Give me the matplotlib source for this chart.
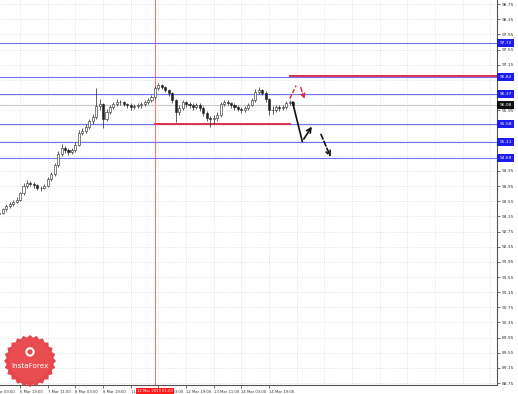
import matplotlib
matplotlib.use("Agg")
import matplotlib.pyplot as plt
import numpy as np

# 2-hour candles, index 0 = 6 Mar 03:00
bar_idx = list(range(2, 88))
first_open = 93.20
closes = [93.24, 93.34, 93.42, 93.47, 93.53, 93.58, 93.76, 93.95, 94.03, 94.00,
          93.97, 93.90, 93.90, 93.95, 94.13, 94.26, 94.50, 94.79, 94.95, 94.90,
          94.85, 94.90, 95.03, 95.35, 95.40, 95.50, 95.66, 95.77, 96.06, 96.11,
          95.72, 95.90, 96.03, 96.11, 96.16, 96.16, 96.11, 96.09, 96.03, 96.06,
          96.09, 96.11, 96.16, 96.22, 96.30, 96.53, 96.61, 96.56, 96.48, 96.40,
          96.22, 95.90, 96.01, 96.16, 96.11, 96.09, 96.03, 96.09, 96.01, 95.87,
          95.74, 95.72, 95.74, 95.82, 96.11, 96.16, 96.14, 96.09, 96.03, 95.98,
          95.95, 96.01, 96.09, 96.22, 96.43, 96.48, 96.40, 96.24, 95.95, 95.95,
          96.03, 96.01, 96.03, 96.14, 96.16, 96.08]
highs = [93.30, 93.38, 93.47, 93.52, 93.58, 93.66, 93.80, 94.02, 94.10, 94.08,
         94.05, 94.01, 93.96, 94.00, 94.18, 94.32, 94.56, 94.88, 95.05, 95.00,
         94.95, 94.96, 95.10, 95.42, 95.48, 95.58, 95.72, 95.85, 96.53, 96.25,
         96.15, 95.98, 96.10, 96.18, 96.24, 96.22, 96.20, 96.15, 96.13, 96.11,
         96.14, 96.16, 96.21, 96.27, 96.36, 96.60, 96.66, 96.64, 96.60, 96.52,
         96.44, 96.26, 96.08, 96.22, 96.20, 96.16, 96.13, 96.15, 96.13, 96.05,
         95.92, 95.80, 95.82, 95.90, 96.18, 96.22, 96.21, 96.18, 96.13, 96.08,
         96.03, 96.06, 96.14, 96.28, 96.50, 96.56, 96.52, 96.45, 96.28, 96.05,
         96.10, 96.08, 96.09, 96.19, 96.22, 96.20]
lows = [93.14, 93.20, 93.30, 93.38, 93.42, 93.49, 93.55, 93.72, 93.90, 93.94,
        93.90, 93.84, 93.83, 93.86, 93.92, 94.08, 94.22, 94.45, 94.74, 94.83,
        94.78, 94.80, 94.86, 95.00, 95.30, 95.35, 95.46, 95.60, 95.72, 95.95,
        95.48, 95.66, 95.85, 95.98, 96.06, 96.08, 96.05, 96.02, 95.97, 95.98,
        96.01, 96.00, 96.07, 96.12, 96.18, 96.26, 96.48, 96.50, 96.42, 96.33,
        96.15, 95.64, 95.82, 95.96, 96.04, 96.00, 95.95, 95.98, 95.93, 95.80,
        95.66, 95.50, 95.60, 95.68, 95.78, 96.05, 96.08, 96.02, 95.96, 95.92,
        95.88, 95.90, 95.96, 96.05, 96.18, 96.38, 96.34, 96.18, 95.82, 95.86,
        95.90, 95.93, 95.95, 95.98, 96.08, 96.02]
opens = [first_open] + closes[:-1]

blue_levels = [97.72, 96.82, 96.37, 95.58, 95.11, 94.69]
current_price = 96.08
resist_level = 96.85
resist_from = 86
support_level = 95.60
support_from, support_to = 47, 86
marker_bar = 47
marker_label = "12 Mar 2019 01:00"

tick_bars = [8, 16, 24, 32, 40, 48, 56, 64, 72, 80]
tick_labels = ["6 Mar 19:00", "7 Mar 11:00", "8 Mar 03:00", "8 Mar 19:00",
               "11 Mar 11:00", "12 Mar 03:00", "12 Mar 19:00", "13 Mar 11:00",
               "14 Mar 03:00", "14 Mar 19:00"]
first_tick_label = "6 Mar 03:00"

# forecast arrows (bar index, price)
red_up = [(86.0, 96.26), (87.8, 96.60)]
red_down = [(88.9, 96.62), (90.5, 96.18)]
black_down = [(86.8, 96.16), (89.6, 95.13)]
black_up = [(89.6, 95.13), (92.8, 95.58)]
black_dash = [(94.7, 95.38), (98.1, 94.65)]

fig = plt.figure(figsize=(5.18, 3.94), dpi=100)
ax = fig.add_axes([0, 9 / 394, 497 / 518, 385 / 394])
ax.set_xlim(2.2, 145.9)
ax.set_ylim(88.70, 98.86)

yt = np.round(np.arange(88.75, 98.76, 0.4), 2)
ax.set_yticks(yt)
ax.set_yticklabels(["%.2f" % v for v in yt])
ax.yaxis.tick_right()
ax.set_xticks(tick_bars)
ax.set_xticklabels(tick_labels, ha="left")
ax.tick_params(axis="y", labelsize=3.2, length=2, width=0.5, colors="#333333", pad=1.5)
ax.tick_params(axis="x", labelsize=2.7, length=2, width=0.5, colors="#333333", pad=1.5)

for s in ["left", "top"]:
    ax.spines[s].set_visible(False)
for s in ["right", "bottom"]:
    ax.spines[s].set_color("#555555")
    ax.spines[s].set_linewidth(0.8)

for v in yt:
    ax.axhline(v, color="#d4d4d4", lw=0.5, ls=":", zorder=0)
for b in range(0, 146, 8):
    ax.axvline(b, color="#d4d4d4", lw=0.5, ls=":", zorder=0)

ax.axvline(marker_bar, color="#f07a7a", lw=0.8, zorder=1)

for lv in blue_levels:
    ax.axhline(lv, color="#7272f2", lw=0.8, zorder=1)
ax.axhline(current_price, color="#c8c8c8", lw=0.8, zorder=1)

ax.plot([resist_from, 145.9], [resist_level, resist_level], color="#e2304c", lw=1.4, zorder=3)
ax.plot([support_from, support_to], [support_level, support_level], color="#e2304c", lw=1.4, zorder=3)

# candles
ax.vlines(bar_idx, lows, highs, color="#222222", lw=0.5, zorder=4)
for b, o, c in zip(bar_idx, opens, closes):
    up = c >= o
    ax.bar(b, max(abs(c - o), 0.01), bottom=min(o, c), width=0.6,
           color="white" if up else "#222222", edgecolor="#222222", lw=0.4, zorder=5)

# forecast arrows
ax.plot(*zip(*red_up), color="#e8203a", lw=1.0, ls=(0, (3, 1.5)), zorder=6)
ax.annotate("", xy=red_down[1], xytext=red_down[0],
            arrowprops=dict(arrowstyle="->", color="#e8203a", lw=1.0, ls=(0, (3, 1.5)),
                            mutation_scale=7), zorder=6)
ax.plot(*zip(*black_down), color="#111111", lw=1.2, zorder=6)
ax.annotate("", xy=black_up[1], xytext=black_up[0],
            arrowprops=dict(arrowstyle="->", color="#111111", lw=1.2, mutation_scale=8), zorder=6)
ax.annotate("", xy=black_dash[1], xytext=black_dash[0],
            arrowprops=dict(arrowstyle="->", color="#111111", lw=1.2, ls=(0, (3, 1.5)),
                            mutation_scale=8), zorder=6)

# right-side price tags
ytr = ax.get_yaxis_transform()
for lv in blue_levels:
    ax.text(1.005, lv, "%.2f" % lv, transform=ytr, fontsize=3.2, color="white",
            va="center", ha="left", clip_on=False, zorder=7,
            bbox=dict(boxstyle="square,pad=0.45", fc="#1c1cf0", ec="none"))
ax.text(1.005, current_price, "%.2f" % current_price, transform=ytr, fontsize=3.2,
        color="white", va="center", ha="left", clip_on=False, zorder=7,
        bbox=dict(boxstyle="square,pad=0.45", fc="#111111", ec="none"))

xtr = ax.get_xaxis_transform()
ax.text(0, -0.012, first_tick_label, transform=xtr, fontsize=2.7, color="#333333",
        ha="left", va="top", clip_on=False)
ax.text(marker_bar, -0.01, marker_label, transform=xtr, fontsize=2.7, color="white",
        ha="center", va="top", clip_on=False, zorder=8,
        bbox=dict(boxstyle="square,pad=0.35", fc="#ff1a1a", ec="none"))

# logo
lax = fig.add_axes([0, 0, 60 / 518, 66 / 394])
lax.set_xlim(-1.15, 1.15)
lax.set_ylim(-1.15, 1.15)
lax.set_aspect("equal")
lax.axis("off")
n = 48
ang = np.linspace(0, 2 * np.pi, n, endpoint=False)
rad = np.where(np.arange(n) % 2 == 0, 1.0, 0.9)
lax.fill(rad * np.cos(ang), rad * np.sin(ang), color="#e3373d", alpha=0.92, lw=0)
lax.add_patch(plt.Circle((0, 0.05), 0.82, color="#ea4d4f", lw=0))
lax.text(0, -0.2, "InstaForex", color="white", fontsize=5.2, ha="center", va="center")
lax.add_patch(plt.Circle((0, 0.35), 0.18, color="white", lw=0))
lax.add_patch(plt.Circle((0, 0.35), 0.1, color="#ea4d4f", lw=0))

fig.savefig("out.png", dpi=100)
